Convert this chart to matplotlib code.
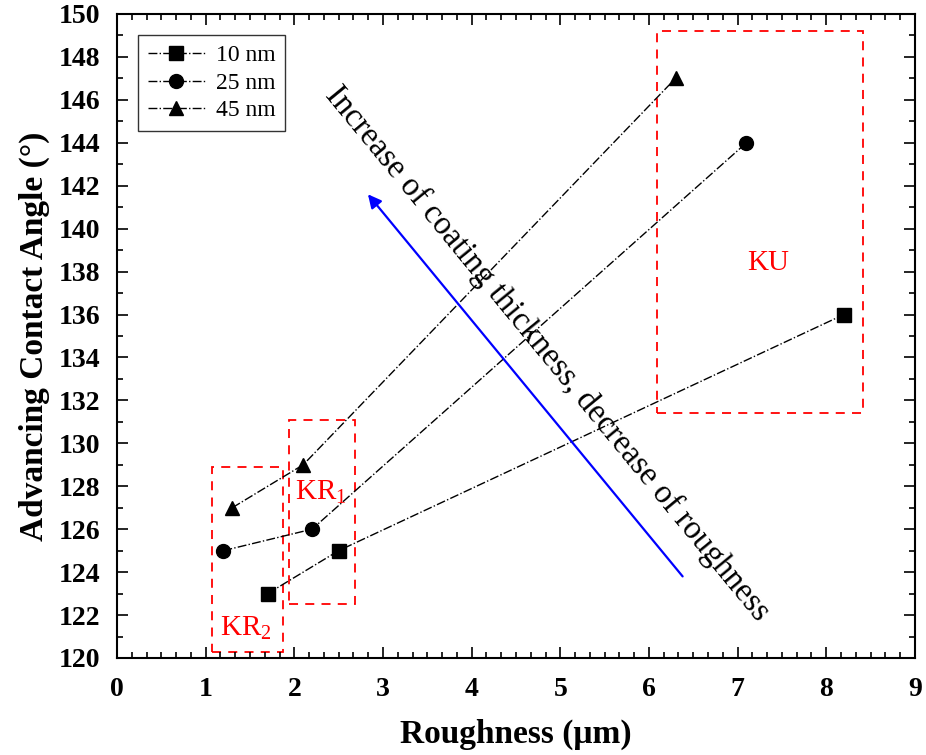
import matplotlib.pyplot as plt
from matplotlib.patches import Rectangle
from matplotlib.ticker import MultipleLocator

# roughness (um) and advancing contact angle (deg) for each coating thickness
rough_10 = [1.7, 2.5, 8.2]
angle_10 = [123, 125, 136]
rough_25 = [1.2, 2.2, 7.1]
angle_25 = [125, 126, 144]
rough_45 = [1.3, 2.1, 6.3]
angle_45 = [127, 129, 147]

# region boxes: (x0, x1, y0, y1)
boxes = [
    (1.07, 1.87, 120.3, 128.9),
    (1.94, 2.68, 122.5, 131.1),
    (6.09, 8.42, 131.4, 149.2),
]

plt.rcParams['font.family'] = 'Liberation Serif'
plt.rcParams['mathtext.fontset'] = 'custom'
plt.rcParams['mathtext.rm'] = 'Liberation Serif'
plt.rcParams['mathtext.it'] = 'Liberation Serif:italic'

fig = plt.figure(figsize=(9.26, 7.55), dpi=100)
ax = fig.add_axes([0.1264, 0.1285, 0.8616, 0.853])

style = dict(color='black', linestyle='-.', linewidth=1.0, markersize=10)
ax.plot(rough_10, angle_10, marker='s', label='10 nm', **style)
ax.plot(rough_25, angle_25, marker='o', label='25 nm', **style)
ax.plot(rough_45, angle_45, marker='^', label='45 nm', **style)

for x0, x1, y0, y1 in boxes:
    ax.add_patch(Rectangle((x0, y0), x1 - x0, y1 - y0, fill=False,
                           edgecolor='red', linestyle=(0, (5, 4)), linewidth=1.3))

ax.text(1.45, 121.4, r'KR$_\mathrm{2}$', color='red', fontsize=21, ha='center', va='center')
ax.text(2.3, 127.7, r'KR$_\mathrm{1}$', color='red', fontsize=21, ha='center', va='center')
ax.text(7.34, 138.4, 'KU', color='red', fontsize=21, ha='center', va='center')

# trend arrow and label
ax.annotate('', xy=(2.83, 141.6), xytext=(6.38, 123.8),
            arrowprops=dict(arrowstyle='-|>', color='blue', lw=1.6,
                            mutation_scale=20, shrinkA=0, shrinkB=0))
ax.text(4.85, 134.2, 'Increase of coating thickness, decrease of roughness',
        rotation=-50.6, rotation_mode='anchor', fontsize=23.5,
        ha='center', va='center')

ax.set_xlim(0, 9)
ax.set_ylim(120, 150)
ax.xaxis.set_major_locator(MultipleLocator(1))
ax.xaxis.set_minor_locator(MultipleLocator(1 / 6))
ax.yaxis.set_major_locator(MultipleLocator(2))
ax.yaxis.set_minor_locator(MultipleLocator(1))
ax.tick_params(which='both', direction='in', top=True, right=True, width=1.2)
ax.tick_params(which='major', length=8, labelsize=20)
ax.tick_params(axis='x', which='major', pad=14)
ax.tick_params(axis='y', which='major', pad=12)
ax.tick_params(which='minor', length=4)
for lab in ax.get_xticklabels() + ax.get_yticklabels():
    lab.set_fontweight('bold')
for sp in ax.spines.values():
    sp.set_linewidth(1.5)

ax.set_xlabel('Roughness (μm)', fontsize=24, fontweight='bold', labelpad=12)
ax.set_ylabel('Advancing Contact Angle (°)', fontsize=24, fontweight='bold', labelpad=6)

leg = ax.legend(loc='upper left', fontsize=17, frameon=True, fancybox=False,
                edgecolor='black', handlelength=2.4, borderpad=0.4,
                labelspacing=0.25, handletextpad=0.5,
                bbox_to_anchor=(0.012, 0.985))
leg.get_frame().set_linewidth(1.0)

fig.savefig('out.png', dpi=100)
